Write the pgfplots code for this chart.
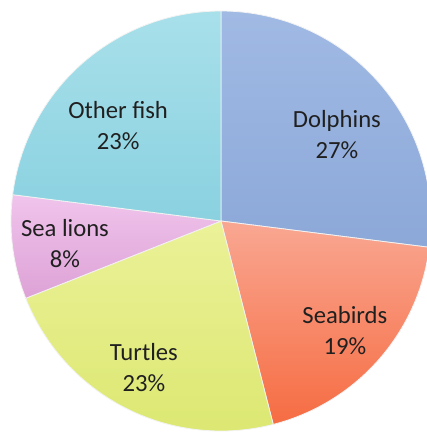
\documentclass[border=0pt]{standalone}
\usepackage{fontspec}
\setmainfont{Carlito}
\usepackage{pgfplots}
\pgfplotsset{compat=1.18}
\definecolor{cDolT}{HTML}{A0BAE4}\definecolor{cDolB}{HTML}{8CA8D8}
\definecolor{cSeaT}{HTML}{F9A792}\definecolor{cSeaB}{HTML}{F66C42}
\definecolor{cTurT}{HTML}{EBF198}\definecolor{cTurB}{HTML}{DCE872}
\definecolor{cLioT}{HTML}{F0C4EC}\definecolor{cLioB}{HTML}{DDA2D6}
\definecolor{cFisT}{HTML}{A8E0EA}\definecolor{cFisB}{HTML}{8AD1E0}
\definecolor{edge}{HTML}{F2F2F2}
\definecolor{txt}{HTML}{202020}
\begin{document}
\begin{tikzpicture}
\begin{axis}[hide axis, scale only axis,
  width=320.25pt, height=326.25pt,
  xmin=-1.0524, xmax=0.9810, ymin=-1.0190, ymax=1.0524,
  clip=true]
\coordinate (LL) at (rel axis cs:0,0);
\coordinate (UR) at (rel axis cs:1,1);
\def\cum{90}
\foreach \p/\c/\lab/\lx/\ly in {
  27/Dol/Dolphins/0.552/0.412,
  19/Sea/Seabirds/0.590/-0.522,
  23/Tur/Turtles/-0.367/-0.698,
  8/Lio/Sea lions/-0.743/-0.108,
  23/Fis/Other fish/-0.490/0.455}{
  \pgfmathsetmacro\a{\cum-3.6*\p}
  \edef\tmp{\noexpand\addplot[top color=c\c T, bottom color=c\c B,
     draw=edge, line width=0.6pt, domain=\a:\cum, samples=120]
     ({cos(x)},{sin(x)}) -- (axis cs:0,0) -- cycle;
     \noexpand\node[align=center, text=txt,
       font=\noexpand\fontsize{18.5}{23}\noexpand\selectfont]
       at (axis cs:\lx,\ly) {\lab\noexpand\\\p\noexpand\%};}
  \tmp
  \xdef\cum{\a}
}
\end{axis}
\pgfresetboundingbox
\useasboundingbox (LL) rectangle (UR);
\end{tikzpicture}
\end{document}
